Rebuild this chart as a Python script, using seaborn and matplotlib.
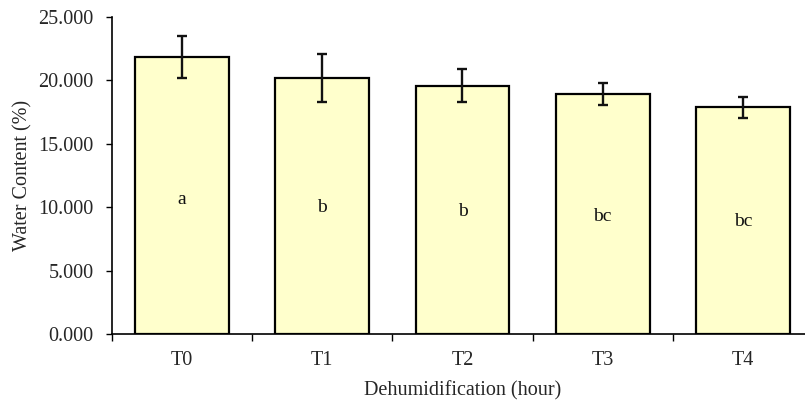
import numpy as np
import pandas as pd
import matplotlib
matplotlib.use("Agg")
import matplotlib.pyplot as plt
import seaborn as sns

categories = ["T0", "T1", "T2", "T3", "T4"]
values = [21.85, 20.19, 19.58, 18.93, 17.88]
errors = [1.65, 1.88, 1.30, 0.84, 0.83]
letters = ["a", "b", "b", "bc", "bc"]
letter_y = [10.6, 9.95, 9.7, 9.3, 8.85]
yticks = [0, 5, 10, 15, 20, 25]

sns.set_theme(style="ticks")
plt.rcParams["font.family"] = ["Liberation Serif", "DejaVu Serif"]

df = pd.DataFrame({"cat": categories, "val": values})

fig = plt.figure(figsize=(8.05, 4.0), dpi=100)
ax = fig.add_axes([111.7 / 805, 1 - 334 / 400, 701.5 / 805, (334 - 17) / 400])

sns.barplot(data=df, x="cat", y="val", color="#FFFFCC", saturation=1,
            edgecolor="black", linewidth=1.6, width=0.667, errorbar=None, ax=ax)
pos = np.arange(len(categories))
ax.errorbar(pos, values, yerr=errors, fmt="none", ecolor="#111111",
            elinewidth=1.7, capsize=3.9, capthick=1.7, zorder=5)
for p, t, y in zip(pos, letters, letter_y):
    ax.text(p, y, t, ha="center", va="center", fontsize=14, color="#111111")

ax.set_yticks(yticks)
ax.set_yticklabels([f"{v:.3f}" for v in yticks], fontsize=14.5)
ax.set_xticks(pos)
ax.set_xticklabels(categories, fontsize=14.5)
ax.set_xticks(np.arange(-0.5, len(categories), 1.0), minor=True)
ax.set_ylim(0, 25)
ax.set_xlim(-0.5, len(categories) - 0.5)
ax.tick_params(axis="x", which="major", length=0, pad=12)
ax.tick_params(axis="x", which="minor", length=5, width=1, color="black")
ax.tick_params(axis="y", length=4.5, width=1, color="black", pad=8.5)
for side in ["top", "right"]:
    ax.spines[side].set_visible(False)
for side in ["left", "bottom"]:
    ax.spines[side].set_color("black")
    ax.spines[side].set_linewidth(1.2)
ax.set_xlabel("Dehumidification (hour)", fontsize=14.5, labelpad=8)
ax.set_ylabel("Water Content (%)", fontsize=14.5, labelpad=4)

fig.savefig("out.png", dpi=100)
